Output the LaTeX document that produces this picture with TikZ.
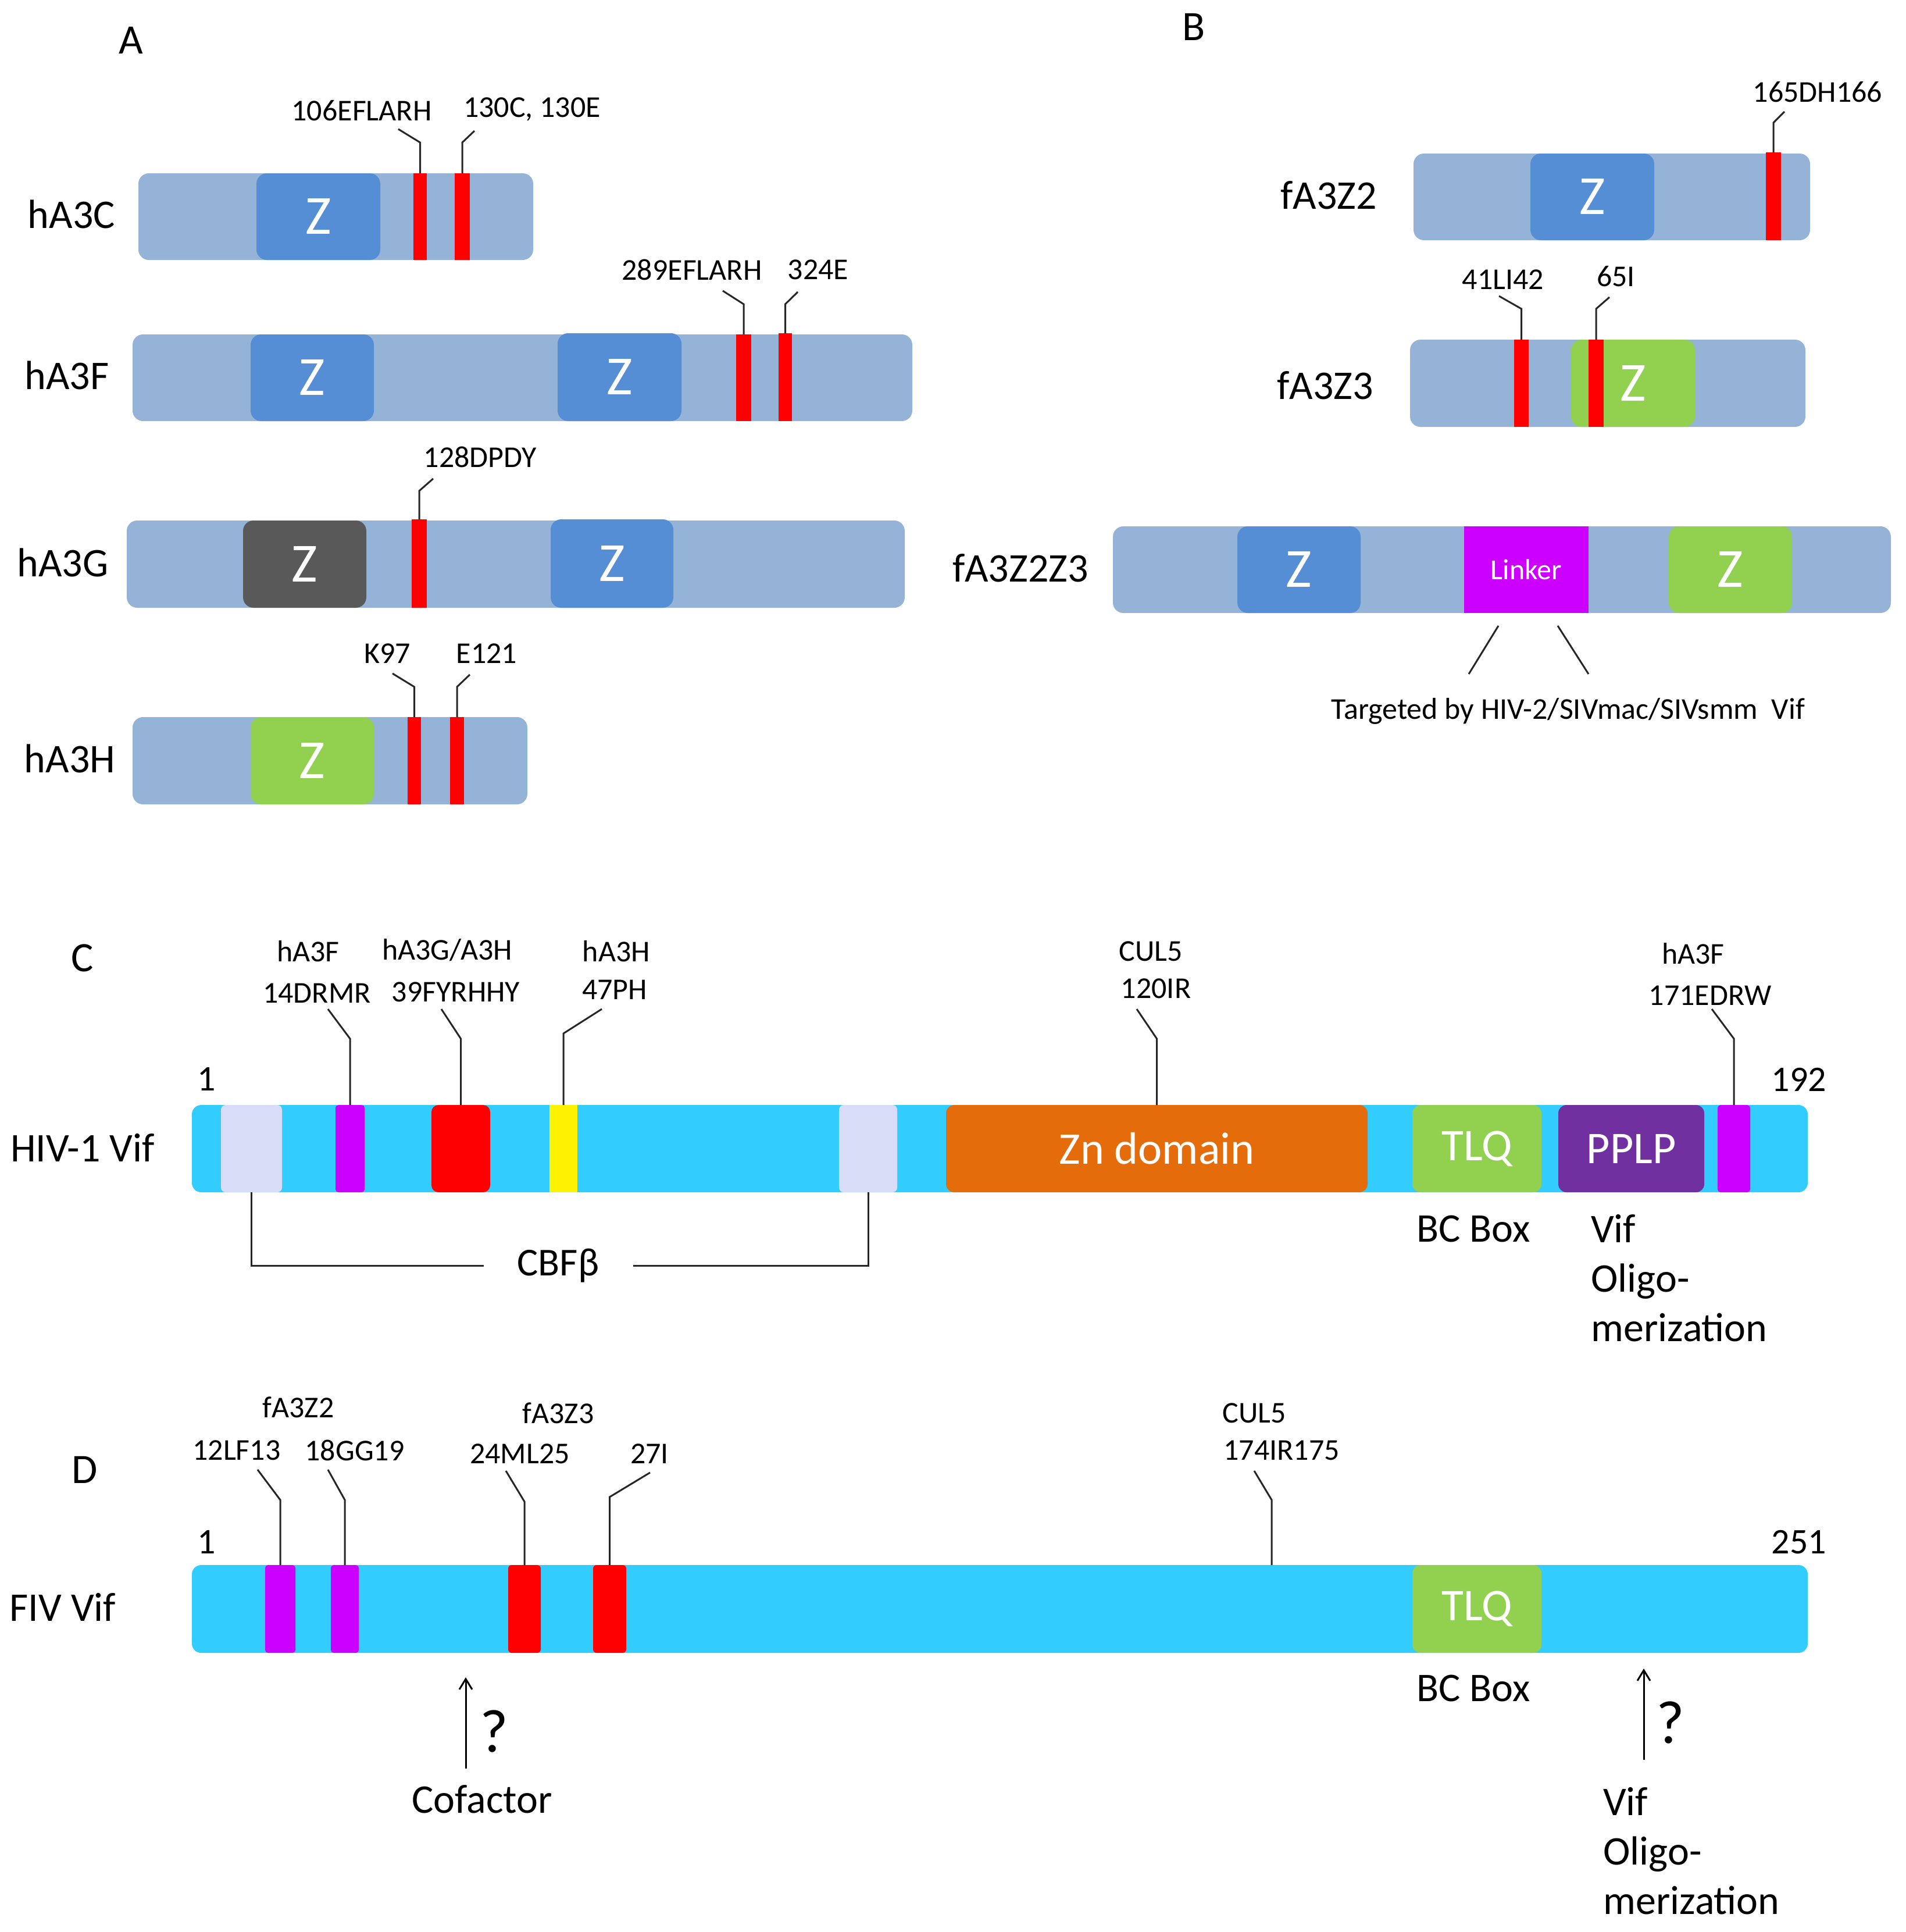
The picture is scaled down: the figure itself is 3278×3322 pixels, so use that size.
\documentclass[tikz,border=0pt]{standalone}
\usepackage{fontspec}
\setmainfont{Carlito}
\usetikzlibrary{arrows.meta}
\definecolor{barA}{HTML}{95B3D7}
\definecolor{zblue}{HTML}{558ED5}
\definecolor{zdark}{HTML}{595959}
\definecolor{zgreen}{HTML}{92D050}
\definecolor{mag}{HTML}{CC00FF}
\definecolor{cyanbar}{HTML}{33CCFF}
\definecolor{lav}{HTML}{D9DCF7}
\definecolor{orng}{HTML}{E46C0A}
\definecolor{purp}{HTML}{7030A0}
\newcommand\fs[2]{\fontsize{#1}{#2}\selectfont}
% name, style, x1, x2, y1, y2, text
\newcommand\segbox[7]{\node[#2,minimum width={(#4)-(#3)},minimum height={(#6)-(#5)}] (#1) at ({((#3)+(#4))/2},{((#5)+(#6))/2}) {#7};}
% marker node, knee y, end coordinate
\newcommand\callout[3]{\draw[call] (#1.north) -- (#1.north |- 0,#2) -- (#3);}
\begin{document}
\begin{tikzpicture}[x=1pt,y=-1pt,
  seg/.style={inner sep=0pt,outer sep=0pt,draw=none},
  bar/.style={seg,fill=barA,rounded corners=18pt},
  vifbar/.style={seg,fill=cyanbar,rounded corners=16pt},
  zbox/.style={seg,rounded corners=18pt,text=white,font=\fs{95}{100}},
  dom/.style={seg,rounded corners=14pt,text=white,font=\fs{78}{90}},
  redmark/.style={seg,fill=red},
  vmark/.style={seg,rounded corners=8pt},
  call/.style={line width=3pt,black!85},
  panel/.style={inner sep=0pt,font=\fs{72}{80}},
  big/.style={inner sep=0pt,font=\fs{70}{85}},
  small/.style={inner sep=0pt,font=\fs{52}{60}},
  num/.style={inner sep=0pt,font=\fs{62}{70}},
  qm/.style={inner sep=0pt,font=\fs{105}{110}},
  arr/.style={line width=3pt,black,-{Straight Barb[length=18pt,width=22pt,line width=3pt]}}
]
\useasboundingbox (0,0) rectangle (3278,3322);
\fill[white] (0,0) rectangle (3278,3322);

%% ---------------- Panel A ----------------
\node[panel] (pA) at (225,69) {A};
% hA3C
\node[big] (lC) at (123,368) {hA3C};
\segbox{bC}{bar}{238}{917}{298}{447}{}
\segbox{zC}{zbox,fill=zblue}{441}{654}{298}{447}{Z}
\segbox{rC1}{redmark}{711}{734}{298}{447}{}
\segbox{rC2}{redmark}{782}{808}{298}{447}{}
\coordinate (eC1) at (685,222);
\coordinate (eC2) at (816,225);
\callout{rC1}{245}{eC1}
\callout{rC2}{245}{eC2}
\node[small] (tC1) at (622,190) {106EFLARH};
\node[small] (tC2) at (915,188) {130C, 130E};
% hA3F
\node[big] (lF) at (115,645) {hA3F};
\segbox{bF}{bar}{228}{1569}{575}{724}{}
\segbox{zF1}{zbox,fill=zblue}{431}{643}{575}{724}{Z}
\segbox{zF2}{zbox,fill=zblue}{959}{1172}{573}{724}{Z}
\segbox{rF1}{redmark}{1266}{1292}{575}{724}{}
\segbox{rF2}{redmark}{1339}{1362}{573}{724}{}
\coordinate (eF1) at (1243,500);
\coordinate (eF2) at (1372,502);
\callout{rF1}{523}{eF1}
\callout{rF2}{523}{eF2}
\node[small] (tF1) at (1190,464) {289EFLARH};
\node[small] (tF2) at (1407,464) {324E};
% hA3G
\node[big] (lG) at (108,967) {hA3G};
\segbox{bG}{bar}{218}{1556}{895}{1045}{}
\segbox{zG1}{zbox,fill=zdark}{418}{630}{895}{1045}{Z}
\segbox{zG2}{zbox,fill=zblue}{947}{1158}{893}{1045}{Z}
\segbox{rG1}{redmark}{708}{734}{893}{1045}{}
\coordinate (eG1) at (745,823);
\callout{rG1}{844}{eG1}
\node[small] (tG1) at (826,786) {128DPDY};
% hA3H
\node[big] (lH) at (120,1304) {hA3H};
\segbox{bH}{bar}{228}{907}{1233}{1383}{}
\segbox{zH}{zbox,fill=zgreen}{431}{643}{1233}{1383}{Z}
\segbox{rH1}{redmark}{701}{724}{1233}{1383}{}
\segbox{rH2}{redmark}{774}{798}{1233}{1383}{}
\coordinate (eH1) at (675,1158);
\coordinate (eH2) at (808,1160);
\callout{rH1}{1181}{eH1}
\callout{rH2}{1181}{eH2}
\node[small] (tH1) at (666,1124) {K97};
\node[small] (tH2) at (837,1124) {E121};

%% ---------------- Panel B ----------------
\node[panel] (pB) at (2053,46) {B};
% fA3Z2
\node[big] (lZ2) at (2285,336) {fA3Z2};
\segbox{bZ2}{bar}{2431}{3113}{264}{413}{}
\segbox{zZ2}{zbox,fill=zblue}{2632}{2845}{264}{413}{Z}
\segbox{rZ2}{redmark}{3037}{3063}{262}{413}{}
\coordinate (eZ2) at (3069,192);
\callout{rZ2}{211}{eZ2}
\node[small] (tZ2) at (3126,158) {165DH166};
% fA3Z3
\node[big] (lZ3) at (2279,663) {fA3Z3};
\segbox{bZ3}{bar}{2425}{3105}{584}{734}{}
\segbox{zZ3}{zbox,fill=zgreen}{2702}{2915}{584}{734}{Z}
\segbox{rZ3a}{redmark}{2604}{2629}{584}{734}{}
\segbox{rZ3b}{redmark}{2732}{2758}{584}{734}{}
\coordinate (eZ3a) at (2578,509);
\coordinate (eZ3b) at (2768,511);
\callout{rZ3a}{531}{eZ3a}
\callout{rZ3b}{531}{eZ3b}
\node[small] (tZ3a) at (2585,481) {41LI42};
\node[small] (tZ3b) at (2779,475) {65I};
% fA3Z2Z3
\node[big] (lZ23) at (1755,977) {fA3Z2Z3};
\segbox{bZ23}{bar}{1914}{3252}{905}{1054}{}
\segbox{zZ23a}{zbox,fill=zblue}{2128}{2340}{905}{1054}{Z}
\segbox{lk}{seg,fill=mag,text=white,font=\fs{50}{56}}{2518}{2732}{905}{1054}{Linker}
\segbox{zZ23b}{zbox,fill=zgreen}{2870}{3082}{905}{1054}{Z}
\coordinate (k1a) at (2577,1076);
\coordinate (k1b) at (2526,1159);
\coordinate (k2a) at (2679,1076);
\coordinate (k2b) at (2732,1159);
\draw[call] (k1a) -- (k1b);
\draw[call] (k2a) -- (k2b);
\node[small] (tTarg) at (2697,1223) {Targeted by HIV-2/SIVmac/SIVsmm\ \ Vif};

%% ---------------- Panel C ----------------
\node[panel] (pC) at (142,1647) {C};
\node[big] (lHIV) at (142,1973) {HIV-1 Vif};
\node[num] (n1C) at (355,1856) {1};
\node[num] (n192) at (3094,1856) {192};
\segbox{bHIV}{vifbar}{330}{3109}{1900}{2050}{}
\segbox{lav1}{vmark,fill=lav}{380}{485}{1900}{2050}{}
\segbox{lav2}{vmark,fill=lav}{1443}{1543}{1900}{2050}{}
\segbox{mC1}{vmark,fill=mag,rounded corners=5pt}{577}{627}{1900}{2050}{}
\segbox{rdC}{vmark,fill=red,rounded corners=12pt}{742}{843}{1900}{2050}{}
\segbox{yC}{seg,fill=yellow}{945}{993}{1900}{2050}{}
\segbox{zn}{dom,fill=orng}{1627}{2352}{1900}{2050}{Zn domain}
\segbox{tlqC}{dom,fill=zgreen}{2429}{2651}{1900}{2050}{TLQ}
\segbox{pplp}{dom,fill=purp}{2680}{2931}{1900}{2050}{PPLP}
\segbox{mC2}{vmark,fill=mag,rounded corners=5pt}{2954}{3010}{1900}{2050}{}
\coordinate (eC_m1) at (564,1735);
\coordinate (eC_r) at (759,1735);
\coordinate (eC_y) at (1035,1735);
\coordinate (eC_zn) at (1955,1735);
\coordinate (eC_m2) at (2944,1735);
\callout{mC1}{1786}{eC_m1}
\callout{rdC}{1786}{eC_r}
\callout{yC}{1777}{eC_y}
\callout{zn}{1786}{eC_zn}
\callout{mC2}{1786}{eC_m2}
\node[small] (tC_a1) at (530,1636) {hA3F};
\node[small] (tC_a2) at (545,1708) {14DRMR};
\node[small] (tC_b1) at (769,1634) {hA3G/A3H};
\node[small] (tC_b2) at (784,1706) {39FYRHHY};
\node[small] (tC_c1) at (1060,1636) {hA3H};
\node[small] (tC_c2) at (1057,1702) {47PH};
\node[small] (tC_d1) at (1979,1636) {CUL5};
\node[small] (tC_d2) at (1988,1700) {120IR};
\node[small] (tC_e1) at (2912,1640) {hA3F};
\node[small] (tC_e2) at (2941,1712) {171EDRW};
\node[inner sep=0pt,inner xsep=58pt,font=\fs{68}{75}] (cbf) at (960,2176) {CBFβ};
\draw[call] (lav1.south) |- (cbf.west);
\draw[call] (lav2.south) |- (cbf.east);
\node[big] (bcC) at (2534,2113) {BC Box};
\node[big,align=left,anchor=north west] (oligC) at (2736,2088) {Vif\\Oligo-\\merization};

%% ---------------- Panel D ----------------
\node[panel] (pD) at (146,2527) {D};
\node[big] (lFIV) at (108,2763) {FIV Vif};
\node[num] (n1D) at (355,2652) {1};
\node[num] (n251) at (3094,2652) {251};
\segbox{bFIV}{vifbar}{330}{3109}{2691}{2842}{}
\segbox{mD1}{vmark,fill=mag,rounded corners=5pt}{456}{508}{2691}{2842}{}
\segbox{mD2}{vmark,fill=mag,rounded corners=5pt}{569}{617}{2691}{2842}{}
\segbox{rD1}{vmark,fill=red,rounded corners=6pt}{874}{930}{2691}{2842}{}
\segbox{rD2}{vmark,fill=red,rounded corners=6pt}{1020}{1077}{2691}{2842}{}
\segbox{tlqD}{dom,fill=zgreen}{2429}{2651}{2691}{2842}{TLQ}
\coordinate (eD_m1) at (443,2527);
\coordinate (eD_m2) at (564,2527);
\coordinate (eD_r1) at (870,2529);
\coordinate (eD_r2) at (1118,2532);
\coordinate (eD_cul) at (2157,2529);
\coordinate (sD_cul) at (2187,2691);
\callout{mD1}{2579}{eD_m1}
\callout{mD2}{2579}{eD_m2}
\callout{rD1}{2582}{eD_r1}
\callout{rD2}{2574}{eD_r2}
\draw[call] (sD_cul) -- (2187,2579) -- (eD_cul);
\node[small] (tD_a) at (513,2420) {fA3Z2};
\node[small] (tD_a1) at (407,2494) {12LF13};
\node[small] (tD_a2) at (610,2494) {18GG19};
\node[small] (tD_b) at (960,2430) {fA3Z3};
\node[small] (tD_b1) at (894,2500) {24ML25};
\node[small] (tD_b2) at (1117,2500) {27I};
\node[small] (tD_c) at (2157,2430) {CUL5};
\node[small] (tD_c1) at (2204,2494) {174IR175};
\node[big] (bcD) at (2534,2903) {BC Box};
\coordinate (a1s) at (801,3041);
\coordinate (a1e) at (801,2884);
\draw[arr] (a1s) -- (a1e);
\node[qm] (q1) at (850,2977) {?};
\node[big] (cof) at (829,3094) {Cofactor};
\coordinate (a2s) at (2827,3026);
\coordinate (a2e) at (2827,2869);
\draw[arr] (a2s) -- (a2e);
\node[qm] (q2) at (2873,2962) {?};
\node[big,align=left,anchor=north west] (oligD) at (2757,3073) {Vif\\Oligo-\\merization};
\end{tikzpicture}
\end{document}
